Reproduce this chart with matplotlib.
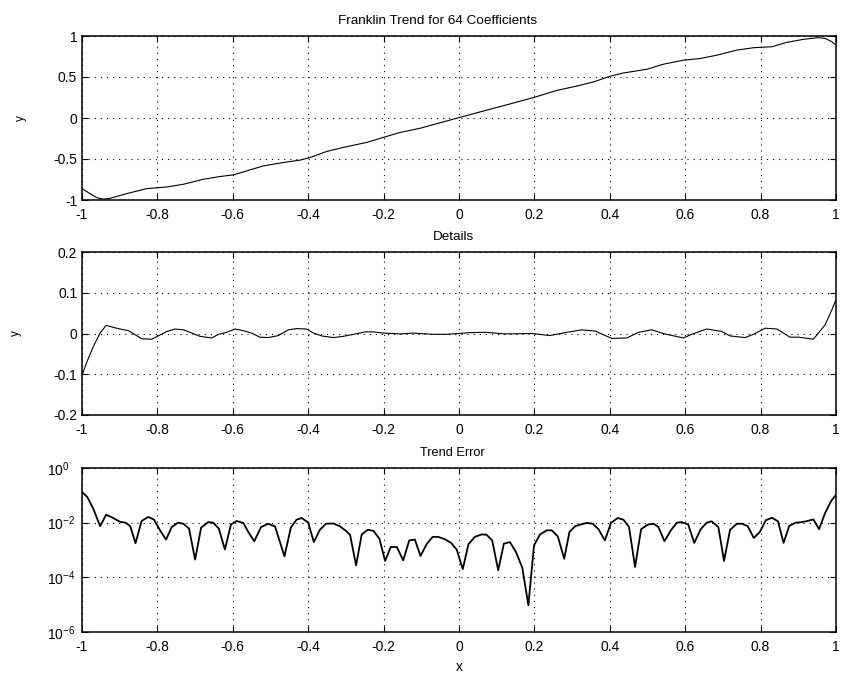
import numpy as np
import matplotlib
matplotlib.use("Agg")
import matplotlib.pyplot as plt
from matplotlib.ticker import NullLocator

plt.rcParams['font.family'] = ['Liberation Sans', 'DejaVu Sans']
plt.rcParams['mathtext.fontset'] = 'custom'
plt.rcParams['mathtext.rm'] = 'Liberation Sans'
plt.rcParams['mathtext.it'] = 'Liberation Sans'
plt.rcParams['mathtext.default'] = 'regular'

# ---- data -------------------------------------------------------------
x_ticks = [-1, -0.8, -0.6, -0.4, -0.2, 0, 0.2, 0.4, 0.6, 0.8, 1]
x_tick_labels = ['-1', '-0.8', '-0.6', '-0.4', '-0.2', '0', '0.2', '0.4', '0.6', '0.8', '1']

trend_ticks = [-1, -0.5, 0, 0.5, 1]
trend_tick_labels = ['-1', '-0.5', '0', '0.5', '1']
detail_ticks = [-0.2, -0.1, 0, 0.1, 0.2]
detail_tick_labels = ['-0.2', '-0.1', '0', '0.1', '0.2']
error_ticks = [1e-6, 1e-4, 1e-2, 1]
error_tick_labels = ['$10^{-6}$', '$10^{-4}$', '$10^{-2}$', '$10^{0}$']

trend_x = [-1.000, -0.983, -0.961, -0.943, -0.926, -0.881, -0.828, -0.775, -0.731,
           -0.678, -0.634, -0.599, -0.563, -0.519, -0.466, -0.422, -0.395, -0.351,
           -0.307, -0.245, -0.201, -0.156, -0.103, 0.000, 0.073, 0.126, 0.201, 0.259,
           0.312, 0.356, 0.400, 0.436, 0.498, 0.542, 0.595, 0.639, 0.684, 0.737,
           0.781, 0.830, 0.869, 0.913, 0.953, 0.971, 0.989, 1.000]
trend_y = [-0.861, -0.910, -0.971, -0.990, -0.980, -0.922, -0.861, -0.841, -0.808,
           -0.747, -0.714, -0.694, -0.645, -0.584, -0.543, -0.514, -0.482, -0.408,
           -0.359, -0.298, -0.237, -0.176, -0.125, 0.005, 0.095, 0.160, 0.254, 0.336,
           0.389, 0.439, 0.508, 0.549, 0.594, 0.656, 0.705, 0.725, 0.766, 0.828,
           0.857, 0.869, 0.922, 0.959, 0.980, 0.971, 0.930, 0.889]

detail_x = [-1.000, -0.988, -0.970, -0.952, -0.936, -0.917, -0.899, -0.877, -0.859,
            -0.842, -0.815, -0.798, -0.775, -0.753, -0.731, -0.714, -0.687, -0.656,
            -0.638, -0.616, -0.594, -0.572, -0.550, -0.528, -0.506, -0.479, -0.453,
            -0.431, -0.404, -0.386, -0.364, -0.333, -0.307, -0.280, -0.249, -0.227,
            -0.201, -0.156, -0.121, -0.068, -0.033, 0.000, 0.026, 0.069, 0.122, 0.193,
            0.241, 0.281, 0.325, 0.361, 0.405, 0.445, 0.476, 0.511, 0.546, 0.595,
            0.617, 0.657, 0.697, 0.719, 0.759, 0.781, 0.812, 0.843, 0.878, 0.901,
            0.940, 0.971, 0.989, 1.000]
detail_y = [-0.103, -0.072, -0.032, 0.001, 0.020, 0.015, 0.011, 0.007, -0.003,
            -0.013, -0.014, -0.006, 0.005, 0.011, 0.009, 0.003, -0.007, -0.011,
            -0.002, 0.003, 0.011, 0.007, 0.001, -0.009, -0.010, -0.005, 0.009,
            0.012, 0.011, 0.001, -0.006, -0.010, -0.007, -0.002, 0.004, 0.004,
            0.001, -0.001, 0.001, -0.002, -0.002, 0.000, 0.002, 0.003, -0.001, 0.000,
            -0.005, 0.002, 0.009, 0.006, -0.012, -0.011, 0.003, 0.009, -0.001, -0.011,
            -0.002, 0.011, 0.005, -0.006, -0.010, -0.002, 0.013, 0.011, -0.009, -0.009,
            -0.014, 0.021, 0.058, 0.083]

error_x = [-1.000, -0.986, -0.970, -0.952, -0.936, -0.917, -0.899, -0.884, -0.872,
           -0.858, -0.842, -0.824, -0.809, -0.793, -0.777, -0.762, -0.745, -0.731,
           -0.716, -0.700, -0.684, -0.665, -0.652, -0.637, -0.621, -0.605, -0.590,
           -0.572, -0.559, -0.543, -0.525, -0.506, -0.488, -0.463, -0.446, -0.431,
           -0.417, -0.400, -0.385, -0.369, -0.353, -0.333, -0.316, -0.298, -0.289,
           -0.273, -0.258, -0.242, -0.227, -0.211, -0.196, -0.181, -0.165, -0.148,
           -0.132, -0.117, -0.102, -0.086, -0.070, -0.055, -0.037, -0.021, -0.006,
           0.010, 0.025, 0.042, 0.060, 0.073, 0.088, 0.104, 0.119, 0.135, 0.151,
           0.168, 0.184, 0.199, 0.215, 0.233, 0.246, 0.262, 0.279, 0.293, 0.308,
           0.324, 0.339, 0.355, 0.370, 0.387, 0.403, 0.421, 0.436, 0.451, 0.467,
           0.483, 0.501, 0.516, 0.529, 0.545, 0.562, 0.578, 0.591, 0.608, 0.624,
           0.641, 0.657, 0.670, 0.688, 0.703, 0.719, 0.737, 0.751, 0.766, 0.782,
           0.798, 0.814, 0.830, 0.846, 0.861, 0.876, 0.893, 0.909, 0.924, 0.940,
           0.955, 0.971, 0.987, 1.000]
# base-10 exponent of the absolute trend error
error_log10 = [-0.88, -1.06, -1.49, -2.13, -1.71, -1.83, -1.97, -2.00, -2.13,
               -2.75, -1.94, -1.79, -1.89, -2.28, -2.62, -2.16, -2.00, -2.04,
               -2.22, -3.35, -2.18, -1.98, -2.00, -2.22, -2.98, -2.07, -1.94,
               -2.01, -2.34, -2.68, -2.16, -2.04, -2.14, -3.23, -2.18, -1.89,
               -1.83, -2.00, -2.71, -2.26, -2.04, -2.03, -2.13, -2.32, -2.44,
               -3.56, -2.43, -2.26, -2.30, -2.59, -3.40, -2.89, -2.89, -3.38,
               -2.65, -2.62, -3.22, -2.79, -2.52, -2.52, -2.61, -2.74, -2.99,
               -3.70, -2.79, -2.52, -2.43, -2.44, -2.65, -3.74, -2.77, -2.71, -3.07,
               -3.65, -5.02, -2.83, -2.43, -2.28, -2.28, -2.50, -3.32, -2.34, -2.13,
               -2.06, -2.01, -2.04, -2.24, -2.65, -2.01, -1.83, -1.89, -2.16, -3.62,
               -2.24, -2.07, -2.04, -2.16, -2.68, -2.28, -2.00, -1.98, -2.07, -2.74,
               -2.24, -2.00, -1.95, -2.16, -3.40, -2.26, -2.04, -2.04, -2.13, -2.56,
               -2.34, -1.91, -1.82, -1.95, -2.74, -2.12, -2.00, -1.98, -1.94, -1.88,
               -2.24, -1.65, -1.21, -0.98]
error_values = 10.0 ** np.asarray(error_log10)

# ---- figure -----------------------------------------------------------
W, H = 841, 679
fig = plt.figure(figsize=(W / 100, H / 100), dpi=100)
left, width = 82 / W, 754 / W


def panel(top_px, bottom_px):
    return fig.add_axes([left, 1 - bottom_px / H, width, (bottom_px - top_px) / H])


def style(ax):
    ax.set_xlim(-1, 1)
    ax.set_xticks(x_ticks)
    ax.set_xticklabels(x_tick_labels)
    ax.grid(True, which='major', color='k', linestyle=(0, (1, 4.5)), linewidth=0.8)
    ax.tick_params(direction='in', top=True, right=True, length=4, width=0.8,
                   labelsize=10, color='k')
    ax.tick_params(axis='x', pad=6)
    ax.tick_params(axis='y', pad=3.5)
    for s in ax.spines.values():
        s.set_linewidth(1.1)


ax1 = panel(36, 200)
ax1.plot(trend_x, trend_y, color='k', linewidth=0.8)
style(ax1)
ax1.set_ylim(-1, 1)
ax1.set_yticks(trend_ticks)
ax1.set_yticklabels(trend_tick_labels)
ax1.set_title('Franklin Trend for 64 Coefficients', fontsize=9.7, pad=9, x=0.4715)
ax1.set_ylabel('y', fontsize=8.5)
ax1.yaxis.set_label_coords(-0.073, 0.5)

ax2 = panel(252, 415)
ax2.plot(detail_x, detail_y, color='k', linewidth=0.8)
style(ax2)
ax2.set_ylim(-0.2, 0.2)
ax2.set_yticks(detail_ticks)
ax2.set_yticklabels(detail_tick_labels)
ax2.set_title('Details', fontsize=9.7, pad=9, x=0.4927)
ax2.set_ylabel('y', fontsize=8.5)
ax2.yaxis.set_label_coords(-0.0796, 0.5)

ax3 = panel(468, 632)
ax3.plot(error_x, error_values, color='k', linewidth=1.3)
ax3.set_yscale('log')
style(ax3)
ax3.set_ylim(1e-6, 1)
ax3.set_yticks(error_ticks)
ax3.set_yticklabels(error_tick_labels, ha='left')
ax3.yaxis.set_minor_locator(NullLocator())
ax3.tick_params(axis='y', pad=25.2)
ax3.set_title('Trend Error', fontsize=9.2, pad=9, x=0.491)
ax3.set_xlabel('x', fontsize=10, labelpad=4)

fig.savefig('out.png', dpi=100)
